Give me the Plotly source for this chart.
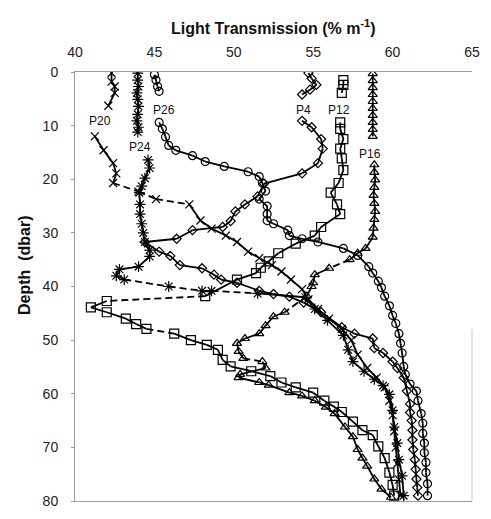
import plotly.graph_objects as go

# ---------------- data (light transmission %/m vs depth dbar) ----------------
P4_x = [54.7, 54.9, 55.2, 54.8, 54.3, None,
        54.3, 54.9, 55.5, 55.6, 55.3, 54.3, 51.9, 51.5, 50.7, 50.1, 49.8, 49.3, 47.4, 46.4, 44.4,
        45.3, 46.0, 46.6, 48.0, 48.75, 49.2, 50.2, 51.6, 52.5, 53.5, 54.4, 55.5, 56.8, 57.6, 58.75,
        58.85, 59.4, 60.0, 60.3, 60.7, 60.9, 61.1, 61.1, 61.2, 61.25, 61.25, 61.3, 61.4, 61.45, 61.5, 61.55, 61.6]
P4_d = [0.2, 1.2, 2.4, 3.3, 4.2, None,
        9.1, 10.3, 12.5, 14.3, 17.0, 18.9, 20.8, 23.2, 24.7, 26.0, 27.8, 28.9, 29.5, 31.1, 31.7,
        33.5, 34.3, 36.0, 36.6, 37.8, 38.7, 39.3, 40.8, 41.4, 41.9, 43.0, 44.8, 47.6, 48.8, 49.7,
        51.5, 52.4, 54.0, 55.2, 57.0, 59.5, 61.9, 63.5, 65.0, 66.8, 68.6, 70.4, 72.3, 74.1, 75.9, 77.5, 79.0]

P12_x = [56.9, 56.9, 56.8, None,
         56.7, 56.7, 56.9, 56.7, 56.8, 56.9, 56.6, 56.1, 56.5, 56.7, 55.5, 55.1, 53.9, 52.8, 52.2, 51.7,
         51.4, 50.2, 48.2, 42.0, 41.0, 42.0, 43.2, 43.85, 44.5, 46.25, 47.3, 48.3, 49.0, 49.3, 49.8,
         51.1, 52.3, 53.0, 53.9, 55.0, 55.7, 56.3, 56.8, 57.5, 58.1, 58.75, 59.1, 59.5, 59.8, 60.0, 60.1]
P12_d = [1.5, 2.4, 3.9, None,
         9.4, 10.6, 12.5, 14.3, 16.1, 18.3, 20.7, 22.5, 24.7, 26.5, 28.9, 30.5, 32.0, 33.8, 35.3, 36.5,
         37.5, 38.7, 41.8, 42.7, 43.9, 44.8, 46.0, 47.0, 47.9, 48.8, 50.0, 50.9, 51.8, 53.7, 54.9,
         55.8, 56.7, 57.9, 58.8, 59.8, 61.3, 62.4, 63.4, 65.2, 66.8, 67.7, 69.8, 72.0, 74.7, 77.0, 79.0]

P16_x = [58.75, 58.75, 58.75, 58.75, 58.75, 58.75, 58.75, 58.75, 58.75, 58.75, None,
         58.85, 58.85, 58.9, 58.85, 58.8, 58.85, 58.9, 58.85, 58.8, 58.75, 58.3, 57.8, 57.3,
         56.0, 55.1, 55.0, 54.9, 54.6, 53.2, 52.5, 52.0, 51.6, 50.7, 50.2, 50.3, 50.6, 51.8, 52.0,
         50.4, 50.3, 51.6, 52.2, 53.5, 54.3, 55.1, 55.8, 56.35, 57.0, 57.5, 57.8, 58.1, 58.4, 58.85, 59.3, 59.9]
P16_d = [0.3, 1.6, 2.9, 4.2, 5.5, 6.8, 8.1, 9.4, 10.7, 12.0, None,
         17.3, 18.7, 20.1, 21.5, 23.0, 24.5, 26.0, 27.5, 29.1, 30.8, 32.9, 33.8, 35.0,
         36.6, 37.8, 39.3, 40.0, 41.8, 44.8, 45.6, 47.3, 48.8, 49.7, 50.6, 52.1, 53.4, 54.0, 55.2,
         56.4, 57.0, 57.9, 58.4, 59.8, 60.4, 61.3, 62.5, 63.7, 66.2, 68.0, 70.4, 72.0, 73.5, 75.9, 77.8, 79.3]

P20_x = [42.3, 42.3, 42.5, 42.5, 42.1, None,
         41.25, 41.8, 42.4, 42.6, 42.4, 44.0, 45.1, 47.2, 47.9, 48.6, 49.5, 50.2, 50.9, 51.6, 52.4,
         53.0, 53.6, 54.3, 54.7, 55.3, 56.0, 56.8, 57.4, 57.8, 58.4, 59.0, 59.5, 59.8, 60.0, 60.1,
         60.2, 60.3, 60.4, 60.5]
P20_d = [0.2, 1.8, 2.7, 3.9, 6.3, None,
         12.0, 14.6, 17.0, 18.9, 20.7, 22.3, 23.7, 24.7, 27.7, 29.2, 30.5, 31.7, 33.5, 34.7, 36.0,
         37.2, 38.7, 40.5, 42.4, 44.2, 46.0, 47.9, 50.0, 52.7, 55.2, 57.0, 58.8, 61.3, 64.0, 67.0,
         70.0, 73.0, 76.0, 79.0]

P24_x = [43.95, 43.95, 44.0, 43.9, 43.95, 44.0, 43.95, 43.9, 44.0, 43.95, None,
         44.6, 44.7, 44.4, 44.2, 44.05, 44.1, 44.1, 44.2, 44.3, 44.4, 44.7, 44.7, 44.0, 42.8, 42.6,
         43.1, 45.9, 48.0, 48.6, 51.5, 54.5, 55.1, 55.9, 56.9, 57.2, 57.5, 58.2, 58.85, 59.4, 59.8,
         60.0, 60.1, 60.3, 60.4, 60.6, 60.7]
P24_d = [0.2, 1.5, 2.7, 3.9, 5.1, 6.4, 7.9, 9.1, 10.3, 11.2, None,
         16.4, 17.9, 19.8, 21.3, 22.5, 24.7, 26.5, 28.3, 30.0, 31.7, 33.2, 34.4, 36.3, 36.8, 38.0,
         38.7, 40.0, 40.8, 40.8, 41.3, 42.0, 44.2, 46.3, 49.1, 51.8, 54.0, 55.8, 57.3, 58.5, 60.1,
         63.1, 66.2, 69.2, 72.3, 75.3, 79.0]

P26_x = [45.0, 45.1, 45.2, 45.3, None,
         45.3, 45.5, 45.7, 45.9, 46.35, 47.4, 48.2, 49.4, 50.9, 51.6, 51.8, 52.0, 51.6, 52.1, 52.1,
         52.1, 52.5, 53.4, 53.5, 54.3, 55.3, 56.9, 57.8, 58.5, 58.75, 59.1, 59.3, 59.5, 59.8, 60.0,
         60.2, 60.4, 60.5, 60.6, 60.7, 60.8, 61.1, 61.5, 61.6, 61.8, 61.9, 61.9, 62.0, 62.0, 62.1,
         62.1, 62.2, 62.2]
P26_d = [0.5, 1.5, 2.7, 3.6, None,
         9.4, 10.6, 12.1, 13.7, 14.6, 15.6, 16.7, 17.6, 18.6, 19.5, 20.7, 22.2, 23.7, 25.0, 26.5,
         27.7, 28.3, 29.5, 30.5, 31.1, 31.7, 32.9, 34.2, 36.3, 37.5, 39.0, 40.2, 41.8, 43.6, 45.4,
         46.9, 48.8, 50.6, 52.4, 54.9, 56.4, 58.2, 59.5, 61.3, 63.7, 65.5, 67.4, 69.2, 71.0, 72.8,
         74.7, 76.8, 79.0]

# point-index pairs joined with a dashed segment
P12_dash = [(22, 23), (28, 29)]
P16_dash = [(23, 24), (28, 29), (36, 37)]
P20_dash = [(10, 11), (11, 12), (12, 13)]
P24_dash = [(26, 27), (27, 28), (29, 30)]

labels = ["P4", "P12", "P16", "P20", "P24", "P26"]
label_x = [54.4, 56.6, 58.6, 41.6, 44.1, 45.6]
label_d = [7.0, 7.0, 15.2, 9.2, 13.9, 7.0]

# ---------------- figure ----------------
series = [
    (P4_x, P4_d, [], "diamond-open", 7),
    (P12_x, P12_d, P12_dash, "square-open", 9),
    (P16_x, P16_d, P16_dash, "triangle-up-open", 8),
    (P20_x, P20_d, P20_dash, "x-thin-open", 8),
    (P24_x, P24_d, P24_dash, "asterisk-open", 9),
    (P26_x, P26_d, [], "circle-open", 8),
]

fig = go.Figure()
for xs, ds, dash_pairs, sym, size in series:
    sx, sy, dx, dy = [], [], [], []
    for i in range(len(xs) - 1):
        if xs[i] is None or xs[i + 1] is None:
            continue
        if (i, i + 1) in dash_pairs:
            dx += [xs[i], xs[i + 1], None]
            dy += [ds[i], ds[i + 1], None]
        else:
            sx += [xs[i], xs[i + 1], None]
            sy += [ds[i], ds[i + 1], None]
    fig.add_trace(go.Scatter(x=sx, y=sy, mode="lines",
                             line=dict(color="black", width=1.8), hoverinfo="skip"))
    if dx:
        fig.add_trace(go.Scatter(x=dx, y=dy, mode="lines",
                                 line=dict(color="black", width=1.8, dash="7px,4px"),
                                 hoverinfo="skip"))
    fig.add_trace(go.Scatter(x=xs, y=ds, mode="markers",
                             marker=dict(symbol=sym, size=size, color="black",
                                         line=dict(color="black", width=1.2))))

for t, lx, ld in zip(labels, label_x, label_d):
    fig.add_annotation(x=lx, y=ld, text=t, showarrow=False,
                       font=dict(size=12, color="#111", family="Liberation Sans, Arial"))

fig.add_annotation(xref="paper", yref="paper", x=0.5, y=1.0, yshift=57,
                   text="<b>Light Transmission (% m<sup>-1</sup>)</b>", showarrow=False,
                   font=dict(size=16, color="#111", family="Liberation Sans, Arial"))
fig.add_annotation(xref="paper", yref="paper", x=0, xshift=-51, xanchor="center",
                   y=0.55, yanchor="middle",
                   text="<b>Depth  (dbar)</b>", textangle=-90, showarrow=False,
                   font=dict(size=16, color="#111", family="Liberation Sans, Arial"))

fig.add_shape(type="line", xref="paper", yref="y", x0=1, x1=1, y0=48, y1=80,
              line=dict(color="#c8c8c8", width=1))

fig.update_layout(
    width=491, height=519,
    margin=dict(l=75, r=19, t=72, b=10),
    paper_bgcolor="white", plot_bgcolor="white",
    showlegend=False,
    font=dict(family="Liberation Sans, Arial", color="#222"),
)
fig.update_xaxes(side="top", range=[40, 65], tickvals=[40, 45, 50, 55, 60, 65],
                 showgrid=False, zeroline=False, showline=True, mirror=True,
                 linecolor="#9a9a9a", linewidth=1, ticks="", ticklabelstandoff=8,
                 tickfont=dict(size=14, color="#222"))
fig.update_yaxes(range=[80, 0], tickvals=[0, 10, 20, 30, 40, 50, 60, 70, 80],
                 showgrid=False, zeroline=False, showline=True,
                 linecolor="#9a9a9a", linewidth=1, ticks="outside", ticklen=3,
                 tickcolor="#9a9a9a", ticklabelstandoff=10,
                 tickfont=dict(size=14, color="#222"))

fig.write_html("out.html")
